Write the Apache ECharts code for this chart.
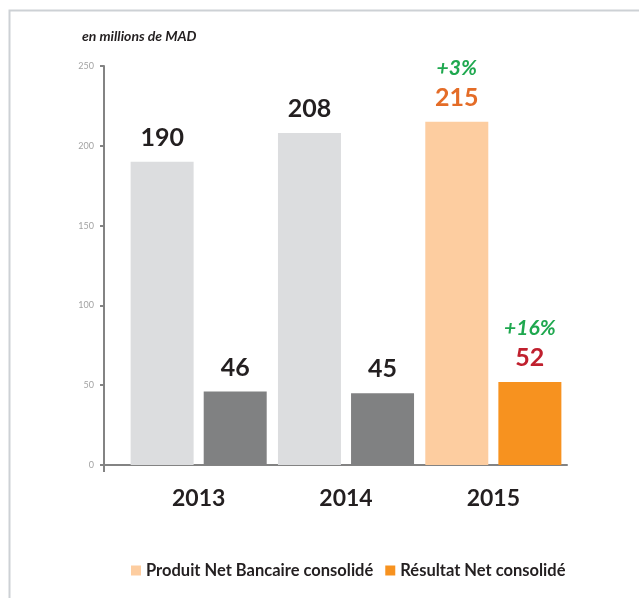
<!DOCTYPE html>
<html>
<head>
<meta charset="utf-8">
<script src="https://cdn.jsdelivr.net/npm/echarts@6/dist/echarts.min.js"></script>
<style>
  html, body { margin: 0; padding: 0; background: #fff; }
  #chart { width: 639px; height: 598px; }
</style>
</head>
<body>
<div id="chart"></div>
<script>
const categories = ['2013', '2014', '2015'];
const pnbValues = [190, 208, 215];
const rnValues = [46, 45, 52];
const pnbGrowth = ['', '', '+3%'];
const rnGrowth = ['', '', '+16%'];
const pnbColors = ['#dcdddf', '#dcdddf', '#fdcda0'];
const rnColors = ['#808182', '#808182', '#f7921f'];
const pnbLabelColors = ['#231f20', '#231f20', '#e46c27'];
const rnLabelColors = ['#231f20', '#231f20', '#c0202e'];

const FONT = 'Lato, "Open Sans", sans-serif';
const gridLeft = 125;
const yAxisShift = 21; // vertical axis sits left of the first category
const axisColor = '#838383';

// build bar items with per-bar colour and label
function makeItems(values, colors, labelColors, growth) {
  return values.map((v, i) => ({
    value: v,
    itemStyle: { color: colors[i] },
    label: {
      rich: {
        g: { fontFamily: FONT, fontSize: 21, fontWeight: 'bold', fontStyle: 'italic', color: '#1fa84f', lineHeight: 30 },
        v: { fontFamily: FONT, fontSize: 25, fontWeight: 'bold', color: labelColors[i], lineHeight: 30 }
      }
    },
    growth: growth[i]
  }));
}

const labelFmt = p => p.data.growth ? `{g|${p.data.growth}}\n{v|${p.value}}` : `{v|${p.value}}`;

const chart = echarts.init(document.getElementById('chart'));
chart.setOption({
  animation: false,
  title: {
    text: 'en millions de MAD',
    left: 77,
    top: 24,
    textStyle: { fontFamily: FONT, fontSize: 14, fontWeight: 'bold', fontStyle: 'italic', color: '#231f20' }
  },
  legend: {
    left: 126,
    top: 557,
    icon: 'rect',
    itemWidth: 10,
    itemHeight: 10,
    itemGap: 12,
    textStyle: { fontFamily: FONT, fontSize: 16.5, fontWeight: 'bold', color: '#231f20' },
    data: [
      { name: 'Produit Net Bancaire consolidé', itemStyle: { color: '#fdcda0' } },
      { name: 'Résultat Net consolidé', itemStyle: { color: '#f7921f' } }
    ]
  },
  grid: { left: gridLeft, right: 72, top: 66, bottom: 133 },
  xAxis: {
    type: 'category',
    data: categories,
    axisLine: { lineStyle: { color: axisColor, width: 2 } },
    axisTick: { length: 7, lineStyle: { color: axisColor, width: 2 }, interval: (i) => i !== 0 },
    axisLabel: { margin: 22, fontFamily: FONT, fontSize: 23, fontWeight: 'bold', color: '#231f20' }
  },
  yAxis: {
    type: 'value',
    min: 0,
    max: 250,
    interval: 50,
    offset: yAxisShift,
    splitLine: { show: false },
    axisLine: { show: true, lineStyle: { color: axisColor, width: 2 } },
    axisTick: { show: true, length: 4, lineStyle: { color: axisColor, width: 2 } },
    axisLabel: { margin: 10, fontFamily: FONT, fontSize: 9, color: '#a3a3a3' }
  },
  series: [
    {
      name: 'Produit Net Bancaire consolidé',
      type: 'bar',
      barWidth: 63,
      barGap: '16%',
      itemStyle: { color: '#fdcda0' },
      label: { show: true, position: 'top', distance: 9, formatter: labelFmt },
      data: makeItems(pnbValues, pnbColors, pnbLabelColors, pnbGrowth)
    },
    {
      name: 'Résultat Net consolidé',
      type: 'bar',
      barWidth: 63,
      itemStyle: { color: '#f7921f' },
      label: { show: true, position: 'top', distance: 9, formatter: labelFmt },
      data: makeItems(rnValues, rnColors, rnLabelColors, rnGrowth)
    }
  ]
});

// frame and the short x-axis stretch between the vertical axis and the first category
const y0 = chart.convertToPixel({ yAxisIndex: 0 }, 0);
const axisX = gridLeft - yAxisShift;
chart.setOption({
  graphic: [
    {
      type: 'rect',
      shape: { x: 9.5, y: 10.5, width: 800, height: 800 },
      style: { fill: null, stroke: '#cdd1d5', lineWidth: 2 },
      silent: true
    },
    {
      type: 'line',
      shape: { x1: axisX, y1: y0, x2: gridLeft, y2: y0 },
      style: { stroke: axisColor, lineWidth: 2 },
      silent: true
    },
    {
      type: 'line',
      shape: { x1: axisX, y1: y0, x2: axisX, y2: y0 + 7 },
      style: { stroke: axisColor, lineWidth: 2 },
      silent: true
    }
  ]
});
</script>
</body>
</html>
